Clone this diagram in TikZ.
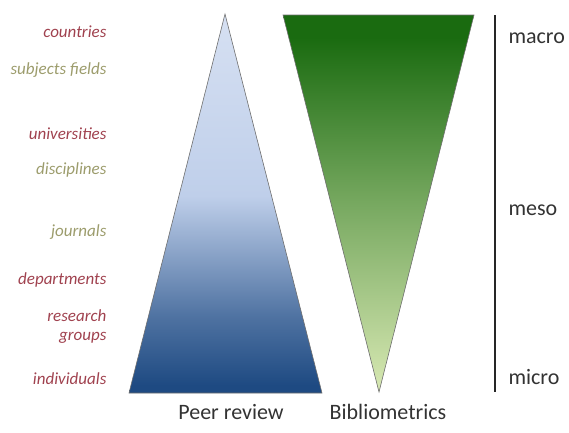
\documentclass[tikz,border=0pt]{standalone}
\usepackage{fontspec}
\setmainfont{Carlito}
\definecolor{lvlred}{HTML}{A0424F}
\definecolor{lvlolive}{HTML}{9C9C6C}
\definecolor{bluetop}{HTML}{D6E0F2}
\definecolor{bluemid}{HTML}{BFCFEA}
\definecolor{bluebot}{HTML}{1E4A82}
\definecolor{greentop}{HTML}{1A6B10}
\definecolor{greenbot}{HTML}{D4E6B0}
\definecolor{edgegray}{HTML}{6E6E6E}
% the path is fitted into 25bp..75bp of the shading
\pgfdeclareverticalshading{peershade}{100bp}{%
  color(0bp)=(bluebot); color(26bp)=(bluebot); color(35bp)=(bluebot!70!bluemid); color(51bp)=(bluemid); color(75bp)=(bluetop); color(100bp)=(bluetop)}
\pgfdeclareverticalshading{biblioshade}{100bp}{%
  color(0bp)=(greenbot); color(26bp)=(greenbot); color(50bp)=(greentop!50!greenbot); color(72bp)=(greentop); color(100bp)=(greentop)}
\tikzset{
  level/.style={anchor=east,font=\fontsize{17}{19}\selectfont\itshape,align=right},
  scale label/.style={anchor=west,text=black!80,font=\fontsize{22}{24}\selectfont},
  method/.style={text=black!80,font=\fontsize{22}{24}\selectfont}
}
\begin{document}
\begin{tikzpicture}[x=1pt,y=-1pt]
    \useasboundingbox (0,0) rectangle (569,432);
    % Triangles
    \shade[shading=peershade,draw=edgegray,line width=0.6pt] (225,14) -- (322,393) -- (129,393) -- cycle;
    \shade[shading=biblioshade,draw=edgegray,line width=0.6pt] (283,15) -- (474,15) -- (379,392) -- cycle;
    % Scale
    \coordinate (top) at (495,15);
    \coordinate (bottom) at (495,392);
    \draw[line width=1.6pt,black!85] (top) -- (bottom);
    \node[scale label] (macro) at (505,38) {macro};
    \node[scale label] (meso) at (505,210) {meso};
    \node[scale label] (micro) at (505,377) {micro};
    % Levels
    \node[level,lvlred] (countries) at (110,32) {countries};
    \node[level,lvlolive] (fields) at (110,70) {subjects fields};
    \node[level,lvlred] (universities) at (110,134) {universities};
    \node[level,lvlolive] (disciplines) at (110,170) {disciplines};
    \node[level,lvlolive] (journals) at (110,232) {journals};
    \node[level,lvlred] (departments) at (110,280) {departments};
    \node[level,lvlred] (groups) at (110,327) {research\\groups};
    \node[level,lvlred] (individuals) at (110,379) {individuals};
    % Labels
    \node[method] (peer) at (231,412) {Peer review};
    \node[method] (biblio) at (388,412) {Bibliometrics};
\end{tikzpicture}
\end{document}
